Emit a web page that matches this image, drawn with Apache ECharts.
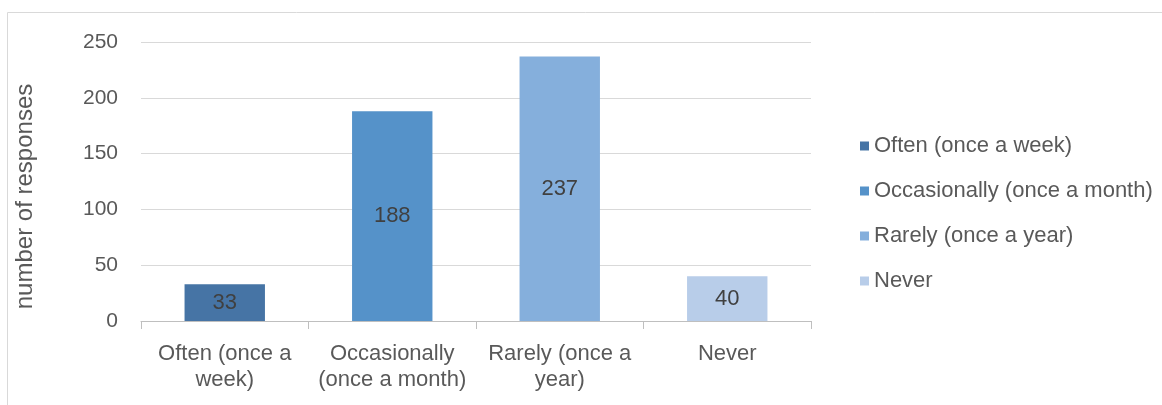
<!DOCTYPE html>
<html>
<head>
<meta charset="utf-8">
<script src="https://cdn.jsdelivr.net/npm/echarts@6/dist/echarts.min.js"></script>
<style>
  html, body { margin: 0; padding: 0; background: #fff; }
  #chart { width: 1162px; height: 405px; }
</style>
</head>
<body>
<div id="chart"></div>
<script>
const categories = ['Often (once a\nweek)', 'Occasionally\n(once a month)', 'Rarely (once a\nyear)', 'Never'];
const seriesNames = ['Often (once a week)', 'Occasionally (once a month)', 'Rarely (once a year)', 'Never'];
const responses = [33, 188, 237, 40];
const colors = ['#4674a5', '#5592c9', '#85afdc', '#b8cde9'];
const yTicks = [0, 50, 100, 150, 200, 250];

const font = 'Liberation Sans, sans-serif';
const myChart = echarts.init(document.getElementById('chart'));

// one series per category so the legend lists each answer
const series = seriesNames.map((name, i) => ({
  name: name,
  type: 'bar',
  stack: 'all',
  barWidth: '48%',
  itemStyle: { color: colors[i] },
  label: {
    show: true,
    position: 'inside',
    color: '#404040',
    fontSize: 22,
    fontFamily: font,
    formatter: (p) => p.value == null ? '' : p.value
  },
  data: responses.map((v, j) => (j === i ? v : null))
}));

const option = {
  animation: false,
  textStyle: { fontFamily: font },
  graphic: [{
    type: 'rect',
    shape: { x: 7.5, y: 12.5, width: 1160, height: 400 },
    style: { fill: 'none', stroke: '#d9d9d9', lineWidth: 1 }
  }],
  legend: {
    orient: 'vertical',
    left: 855,
    top: 130,
    itemGap: 23,
    itemWidth: 9,
    itemHeight: 9,
    icon: 'rect',
    textStyle: { color: '#595959', fontSize: 22, fontFamily: font }
  },
  grid: { left: 141, right: 351, top: 42, bottom: 84 },
  xAxis: {
    type: 'category',
    data: categories,
    axisLine: { lineStyle: { color: '#bfbfbf' } },
    axisTick: { show: true, length: 8, lineStyle: { color: '#bfbfbf' } },
    axisLabel: { color: '#595959', fontSize: 22, lineHeight: 26, margin: 20, interval: 0, fontFamily: font }
  },
  yAxis: {
    type: 'value',
    min: yTicks[0],
    max: yTicks[yTicks.length - 1],
    interval: 50,
    name: 'number of responses',
    nameLocation: 'middle',
    nameGap: 104,
    nameTextStyle: { color: '#595959', fontSize: 24, fontFamily: font, padding: [0, 30, 0, 0] },
    axisLine: { show: false },
    axisTick: { show: false },
    axisLabel: { color: '#595959', fontSize: 21, margin: 23, fontFamily: font },
    splitLine: { lineStyle: { color: '#d9d9d9' } }
  },
  series: series
};

myChart.setOption(option);
</script>
</body>
</html>
